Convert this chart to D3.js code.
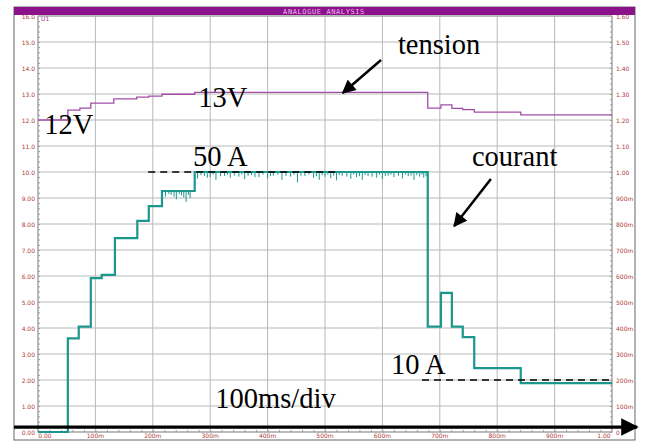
<!DOCTYPE html>
<html>
<head>
<meta charset="utf-8">
<script src="https://cdn.jsdelivr.net/npm/d3@7"></script>
<style>
  body { margin: 0; background: #fff; }
  svg { display: block; }
</style>
</head>
<body>
<div id="chart"></div>
<script>
const FRAME_WIDTH = 645;
const FRAME_HEIGHT = 446;
const BOX = {left: 14, top: 7, right: 635, bottom: 440};
const MARGINS = {left: 38, right: 33, top: 16, bottom: 14};

const VIS_WIDTH = FRAME_WIDTH - MARGINS.left - MARGINS.right;
const VIS_HEIGHT = FRAME_HEIGHT - MARGINS.top - MARGINS.bottom;

const CURRENT_COLOR = "#1b978d";
const TENSION_COLOR = "#a24ea6";
const LABEL_COLOR = "#b03a3a";
const SERIF = "'Liberation Serif', 'Times New Roman', serif";

// tick labels
const LEFT_LABELS = ["0.00", "1.00", "2.00", "3.00", "4.00", "5.00", "6.00", "7.00", "8.00",
                     "9.00", "10.0", "11.0", "12.0", "13.0", "14.0", "15.0", "16.0"];
const RIGHT_LABELS = ["0", "100m", "200m", "300m", "400m", "500m", "600m", "700m", "800m",
                      "900m", "1.00", "1.10", "1.20", "1.30", "1.40", "1.50", "1.60"];
const BOTTOM_LABELS = ["0.00", "100m", "200m", "300m", "400m", "500m", "600m", "700m", "800m", "900m", "1.00"];

// courant (left axis units), step after each time
const CURRENT_T = [0, 0.052, 0.071, 0.092, 0.111, 0.134, 0.173, 0.193, 0.216, 0.273,
                   0.679, 0.702, 0.721, 0.740, 0.760, 0.841, 1.0];
const CURRENT_V = [0, 3.6, 4.05, 5.92, 6.04, 7.46, 8.12, 8.69, 9.27, 10.0,
                   4.05, 5.35, 4.05, 3.65, 2.46, 1.88, 1.88];

// noise spikes on the current plateaus
const SPIKE_T = [0.222, 0.228, 0.232, 0.237, 0.241, 0.246, 0.25, 0.254, 0.258, 0.262, 0.265,
                 0.278, 0.284, 0.29, 0.295, 0.30, 0.305, 0.31, 0.318, 0.325, 0.33, 0.335, 0.342,
                 0.35, 0.355, 0.36, 0.366, 0.372, 0.378, 0.385, 0.392, 0.40, 0.405, 0.41, 0.418,
                 0.425, 0.432, 0.44, 0.446, 0.452, 0.458, 0.465, 0.472, 0.48, 0.485, 0.49, 0.495,
                 0.50, 0.505, 0.51, 0.515, 0.52, 0.525, 0.53, 0.538, 0.545, 0.55, 0.555, 0.56,
                 0.565, 0.57, 0.575, 0.582, 0.59, 0.595, 0.60, 0.605, 0.61, 0.615, 0.62, 0.628,
                 0.635, 0.64, 0.645, 0.65, 0.655, 0.66, 0.665, 0.669, 0.672, 0.676];
const SPIKE_BASE = [9.27, 9.27, 9.27, 9.27, 9.27, 9.27, 9.27, 9.27, 9.27, 9.27, 9.27,
                    10, 10, 10, 10, 10, 10, 10, 10, 10, 10, 10, 10,
                    10, 10, 10, 10, 10, 10, 10, 10, 10, 10, 10, 10,
                    10, 10, 10, 10, 10, 10, 10, 10, 10, 10, 10, 10,
                    10, 10, 10, 10, 10, 10, 10, 10, 10, 10, 10, 10,
                    10, 10, 10, 10, 10, 10, 10, 10, 10, 10, 10, 10,
                    10, 10, 10, 10, 10, 10, 10, 10, 10, 10];
const SPIKE_V = [9.05, 9.15, 9.12, 9.05, 8.95, 9.15, 9.1, 9.02, 8.85, 9.12, 9.0,
                 9.75, 9.88, 9.85, 9.78, 9.8, 9.9, 9.7, 9.84, 9.85, 9.9, 9.78, 9.86,
                 9.82, 9.9, 9.72, 9.85, 9.88, 9.8, 9.8, 9.9, 9.75, 9.84, 9.86, 9.9,
                 9.7, 9.85, 9.82, 9.9, 9.6, 9.86, 9.84, 9.9, 9.78, 9.84, 9.7, 9.88,
                 9.82, 9.9, 9.76, 9.86, 9.68, 9.88, 9.85, 9.82, 9.74, 9.9, 9.8, 9.84,
                 9.7, 9.88, 9.84, 9.82, 9.78, 9.9, 9.72, 9.84, 9.86, 9.9, 9.8, 9.86,
                 9.75, 9.9, 9.84, 9.86, 9.7, 9.88, 9.82, 9.9, 9.78, 9.84];

// tension (left axis units)
const TENSION_T = [0, 0.052, 0.073, 0.092, 0.132, 0.172, 0.193, 0.216, 0.273,
                   0.679, 0.702, 0.721, 0.740, 0.760, 0.841, 1.0];
const TENSION_V = [12.0, 12.38, 12.46, 12.65, 12.81, 12.88, 12.92, 12.99, 13.06,
                   12.46, 12.58, 12.45, 12.4, 12.3, 12.2, 12.2];

// annotations, in data coordinates
const TEXT_LABELS = ["tension", "13V", "12V", "50 A", "courant", "10 A", "100ms/div"];
const TEXT_T = [0.627, 0.279, 0.011, 0.27, 0.756, 0.615, 0.309];
const TEXT_V = [14.54, 12.5, 11.46, 10.25, 10.23, 2.23, 0.92];

const ARROW_FROM = [[0.5976, 14.31], [0.789, 9.73]];
const ARROW_TO = [[0.531, 13.04], [0.725, 7.92]];

const DASH_T0 = [0.192, 0.669];
const DASH_T1 = [0.521, 1.0];
const DASH_V = [10.0, 2.0];

const X_SCALE = d3.scaleLinear().domain([0, 1]).range([MARGINS.left, MARGINS.left + VIS_WIDTH]);
const Y_SCALE = d3.scaleLinear().domain([0, 16]).range([MARGINS.top + VIS_HEIGHT, MARGINS.top]);

const FRAME = d3.select("#chart")
  .append("svg")
    .attr("width", FRAME_WIDTH)
    .attr("height", FRAME_HEIGHT);

// arrow head marker
FRAME.append("defs").append("marker")
    .attr("id", "head")
    .attr("viewBox", "0 0 10 10")
    .attr("refX", 9).attr("refY", 5)
    .attr("markerWidth", 6).attr("markerHeight", 5.5)
    .attr("orient", "auto")
  .append("path")
    .attr("d", "M0,0 L10,5 L0,10 z")
    .attr("fill", "#000");

// outer box and title bar
FRAME.append("rect")
    .attr("x", BOX.left).attr("y", BOX.top)
    .attr("width", BOX.right - BOX.left).attr("height", BOX.bottom - BOX.top)
    .attr("fill", "#fff").attr("stroke", "#666").attr("stroke-width", 1);

FRAME.append("rect")
    .attr("x", BOX.left).attr("y", BOX.top)
    .attr("width", BOX.right - BOX.left).attr("height", 8)
    .attr("fill", "#8c128c");

FRAME.append("text")
    .attr("x", 324).attr("y", 14)
    .attr("text-anchor", "middle")
    .attr("font-family", "DejaVu Sans Mono, monospace")
    .attr("font-size", 7)
    .attr("letter-spacing", 0.6)
    .attr("fill", "#f0b8f0")
    .text("ANALOGUE ANALYSIS");

// grid
const xTicks = d3.range(0, 11).map(i => i / 10);
const yTicks = d3.range(0, 17);

FRAME.append("g").selectAll("line")
    .data(xTicks)
    .enter().append("line")
      .attr("x1", d => X_SCALE(d)).attr("x2", d => X_SCALE(d))
      .attr("y1", Y_SCALE(16)).attr("y2", Y_SCALE(0))
      .attr("stroke", "#b8b8b8").attr("stroke-width", 1);

FRAME.append("g").selectAll("line")
    .data(yTicks)
    .enter().append("line")
      .attr("x1", X_SCALE(0)).attr("x2", X_SCALE(1))
      .attr("y1", d => Y_SCALE(d)).attr("y2", d => Y_SCALE(d))
      .attr("stroke", "#b8b8b8").attr("stroke-width", 1);

// plot border
FRAME.append("rect")
    .attr("x", X_SCALE(0)).attr("y", Y_SCALE(16))
    .attr("width", X_SCALE(1) - X_SCALE(0)).attr("height", Y_SCALE(0) - Y_SCALE(16))
    .attr("fill", "none").attr("stroke", "#999").attr("stroke-width", 1);

// minor ticks on left, right and bottom
const minorY = d3.range(0, 80).map(i => i * 0.2);
const minorX = d3.range(0, 50).map(i => i * 0.02);

FRAME.append("g")
  .attr("transform", "translate(" + X_SCALE(0) + ",0)")
  .call(d3.axisRight(Y_SCALE).tickValues(minorY).tickSize(2).tickFormat(""))
  .call(g => g.select(".domain").remove())
  .selectAll("line").attr("stroke", "#999");

FRAME.append("g")
  .attr("transform", "translate(" + X_SCALE(1) + ",0)")
  .call(d3.axisLeft(Y_SCALE).tickValues(minorY).tickSize(2).tickFormat(""))
  .call(g => g.select(".domain").remove())
  .selectAll("line").attr("stroke", "#999");

FRAME.append("g")
  .attr("transform", "translate(0," + Y_SCALE(0) + ")")
  .call(d3.axisTop(X_SCALE).tickValues(minorX).tickSize(2).tickFormat(""))
  .call(g => g.select(".domain").remove())
  .selectAll("line").attr("stroke", "#999");

// tick labels
FRAME.append("g").selectAll("text")
    .data(LEFT_LABELS)
    .enter().append("text")
      .attr("x", X_SCALE(0) - 3)
      .attr("y", (d, i) => Y_SCALE(i) + 2.5)
      .attr("text-anchor", "end")
      .attr("font-family", "DejaVu Sans, sans-serif")
      .attr("font-size", 6)
      .attr("fill", LABEL_COLOR)
      .text(d => d);

FRAME.append("g").selectAll("text")
    .data(RIGHT_LABELS)
    .enter().append("text")
      .attr("x", X_SCALE(1) + 4)
      .attr("y", (d, i) => Y_SCALE(i) + 2.5)
      .attr("font-family", "DejaVu Sans, sans-serif")
      .attr("font-size", 6)
      .attr("fill", LABEL_COLOR)
      .text(d => d);

FRAME.append("g").selectAll("text")
    .data(BOTTOM_LABELS)
    .enter().append("text")
      .attr("x", (d, i) => X_SCALE(i / 10) + (i == 0 ? 7 : (i == 10 ? -8 : 0)))
      .attr("y", Y_SCALE(0) + 6)
      .attr("text-anchor", "middle")
      .attr("font-family", "DejaVu Sans, sans-serif")
      .attr("font-size", 6)
      .attr("fill", LABEL_COLOR)
      .text(d => d);

FRAME.append("text")
    .attr("x", X_SCALE(0) + 3).attr("y", Y_SCALE(16) + 5)
    .attr("font-family", "DejaVu Sans, sans-serif")
    .attr("font-size", 6)
    .attr("fill", "#9a3a9a")
    .text("U1");

// traces
const stepLine = d3.line()
    .x(d => X_SCALE(d[0]))
    .y(d => Y_SCALE(d[1]))
    .curve(d3.curveStepAfter);

const tensionData = TENSION_T.map((t, i) => [t, TENSION_V[i]]);
const currentData = CURRENT_T.map((t, i) => [t, CURRENT_V[i]]);

FRAME.append("path")
    .datum(tensionData)
    .attr("d", stepLine)
    .attr("fill", "none")
    .attr("stroke", TENSION_COLOR)
    .attr("stroke-width", 1.3);

FRAME.append("g").selectAll("line")
    .data(SPIKE_T)
    .enter().append("line")
      .attr("x1", d => X_SCALE(d)).attr("x2", d => X_SCALE(d))
      .attr("y1", (d, i) => Y_SCALE(SPIKE_BASE[i]))
      .attr("y2", (d, i) => Y_SCALE(SPIKE_V[i]))
      .attr("stroke", CURRENT_COLOR)
      .attr("stroke-width", 1);

FRAME.append("path")
    .datum(currentData)
    .attr("d", stepLine)
    .attr("fill", "none")
    .attr("stroke", CURRENT_COLOR)
    .attr("stroke-width", 2.2);

// dashed level lines
FRAME.append("g").selectAll("line")
    .data(DASH_V)
    .enter().append("line")
      .attr("x1", (d, i) => X_SCALE(DASH_T0[i]))
      .attr("x2", (d, i) => X_SCALE(DASH_T1[i]))
      .attr("y1", d => Y_SCALE(d)).attr("y2", d => Y_SCALE(d))
      .attr("stroke", "#000")
      .attr("stroke-width", 1.6)
      .attr("stroke-dasharray", "7,5");

// arrows
FRAME.append("g").selectAll("line")
    .data(ARROW_FROM)
    .enter().append("line")
      .attr("x1", d => X_SCALE(d[0])).attr("y1", d => Y_SCALE(d[1]))
      .attr("x2", (d, i) => X_SCALE(ARROW_TO[i][0]))
      .attr("y2", (d, i) => Y_SCALE(ARROW_TO[i][1]))
      .attr("stroke", "#000")
      .attr("stroke-width", 2.5)
      .attr("marker-end", "url(#head)");

// time axis arrow along the bottom
FRAME.append("line")
    .attr("x1", BOX.left).attr("x2", BOX.right + 2)
    .attr("y1", Y_SCALE(0.19)).attr("y2", Y_SCALE(0.19))
    .attr("stroke", "#000")
    .attr("stroke-width", 3.2)
    .attr("marker-end", "url(#head)");

// annotation text
FRAME.append("g").selectAll("text")
    .data(TEXT_LABELS)
    .enter().append("text")
      .attr("x", (d, i) => X_SCALE(TEXT_T[i]))
      .attr("y", (d, i) => Y_SCALE(TEXT_V[i]))
      .attr("font-family", SERIF)
      .attr("font-size", 28.5)
      .attr("fill", "#000")
      .text(d => d);
</script>
</body>
</html>
